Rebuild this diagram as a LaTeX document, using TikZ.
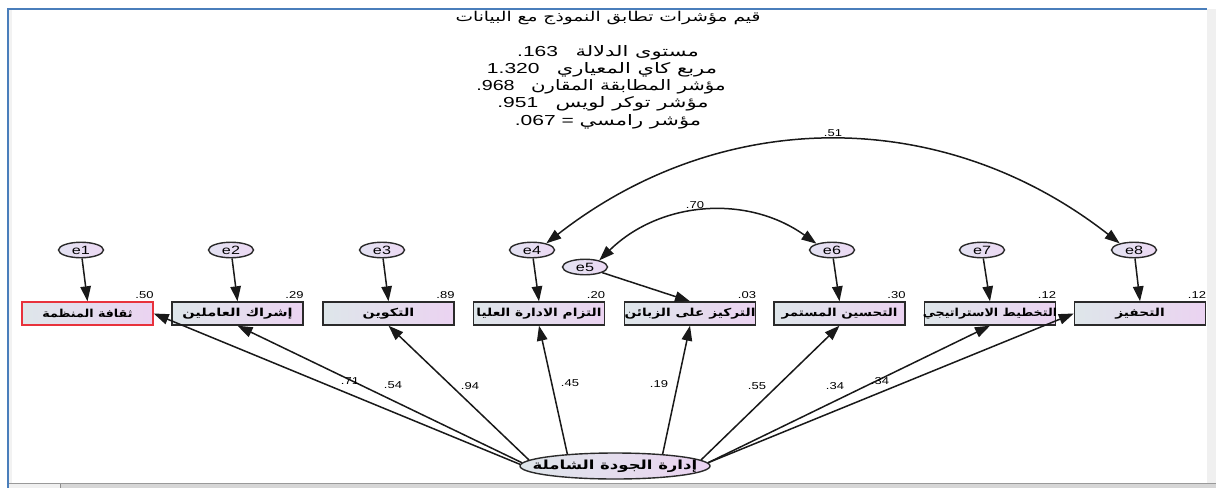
\documentclass[tikz,border=0pt]{standalone}
\usepackage{graphicx}
\usepackage{fontspec}
\setmainfont{Liberation Sans}
\newfontfamily\arfont[Script=Arabic]{DejaVu Sans}
\TeXXeTstate=1
\usetikzlibrary{arrows.meta,shapes.geometric}

\definecolor{frameblue}{HTML}{4A7EBB}
\definecolor{boxL}{HTML}{DEE6EA}
\definecolor{boxR}{HTML}{EBD3F1}
\definecolor{errL}{HTML}{E3E2F2}
\definecolor{errR}{HTML}{ECD9F3}
\definecolor{outline}{HTML}{2A2A2A}
\definecolor{redline}{HTML}{E8323C}
\definecolor{panel}{HTML}{F0F0F0}
\definecolor{statusbar}{HTML}{D6D6D6}

% horizontally stretched text
\newcommand\wide[2]{\scalebox{#1}[1]{#2}}
% stretched text that does not widen its shape
\newcommand\fixw[2]{\makebox[0pt]{\scalebox{#1}[1]{#2}}}

\tikzset{
  obsbox/.style={draw=outline, line width=1.4pt, minimum width=131pt, minimum height=23pt,
    inner sep=0pt, left color=boxL, right color=boxR,
    font=\arfont\bfseries\fontsize{11}{11}\selectfont},
  errnode/.style={ellipse, draw=outline, line width=1.4pt, minimum width=45pt, minimum height=15.5pt,
    inner sep=0pt, left color=errL, right color=errR, font=\fontsize{12}{12}\selectfont},
  latnode/.style={ellipse, draw=outline, line width=1.4pt, minimum width=190pt, minimum height=26pt,
    inner sep=0pt, left color=boxL, right color=boxR,
    font=\arfont\bfseries\fontsize{12.5}{12.5}\selectfont},
  tip/.tip={Triangle[length=15pt,width=10.5pt]},
  regpath/.style={-tip, line width=1.5pt, draw=black!90},
  covpath/.style={tip-tip, line width=1.5pt, draw=black!90},
  val/.style={inner sep=0pt, font=\fontsize{10}{10}\selectfont},
  fitline/.style={inner sep=0pt, font=\fontsize{14.5}{14.5}\selectfont},
}

\begin{document}
\begin{tikzpicture}[x=1pt,y=-1pt]
  % page, side panel and status bar
  \fill[white] (0,0) rectangle (1216,488);
  \useasboundingbox (0,0) rectangle (1216,488);
  \fill[panel] (1207,9) rectangle (1216,483);
  \fill[black!5] (9,10) rectangle (12,483);
  \fill[statusbar] (9,483) rectangle (1216,488);
  \fill[panel] (9,484) rectangle (60,488);
  \draw[black!45, line width=0.8pt] (60,484) -- (60,488);
  \draw[black!40, line width=1pt] (9,483.5) -- (1216,483.5);
  \draw[frameblue, line width=2.4pt] (7,9) -- (1207,9);
  \draw[frameblue, line width=2.4pt] (8,8) -- (8,488);

  % title and fit indices
  \node (title) at (608,18) {\wide{1.38}{\arfont\fontsize{13.5}{13.5}\selectfont\beginR قيم مؤشرات تطابق النموذج مع البيانات\endR}};
  \node[fitline] (fit1) at (608,53) {\wide{1.45}{.163\hspace{12pt}{\arfont\beginR مستوى الدلالة\endR}}};
  \node[fitline] (fit2) at (602,70) {\wide{1.45}{1.320\hspace{12pt}{\arfont\beginR مربع كاي المعياري\endR}}};
  \node[fitline] (fit3) at (601,87) {\wide{1.36}{.968\hspace{12pt}{\arfont\beginR مؤشر المطابقة المقارن\endR}}};
  \node[fitline] (fit4) at (603,104) {\wide{1.45}{.951\hspace{12pt}{\arfont\beginR مؤشر توكر لويس\endR}}};
  \node[fitline] (fit5) at (608,122) {\wide{1.45}{.067 = {\arfont\beginR مؤشر رامسي\endR}}};

  % observed variables
  \node[obsbox, draw=redline] (b1) at (87.5,313.5) {\fixw{1.15}{\beginR ثقافة المنظمة\endR}};
  \node[obsbox] (b2) at (237.5,313.5) {\fixw{1.33}{\beginR إشراك العاملين\endR}};
  \node[obsbox] (b3) at (388.5,313.5) {\fixw{1.3}{\beginR التكوين\endR}};
  \node[obsbox] (b4) at (539,313.5) {\fixw{1.25}{\beginR التزام الادارة العليا\endR}};
  \node[obsbox] (b5) at (690,313.5) {\fixw{1.25}{\beginR التركيز على الزبائن\endR}};
  \node[obsbox] (b6) at (839.5,313.5) {\fixw{1.22}{\beginR التحسين المستمر\endR}};
  \node[obsbox] (b7) at (990,313.5) {\fixw{1.15}{\beginR التخطيط الاستراتيجي\endR}};
  \node[obsbox] (b8) at (1140,313.5) {\fixw{1.25}{\beginR التحفيز\endR}};

  % error terms
  \node[errnode] (e1) at (81,250) {\wide{1.35}{e1}};
  \node[errnode] (e2) at (231,250) {\wide{1.35}{e2}};
  \node[errnode] (e3) at (382,250) {\wide{1.35}{e3}};
  \node[errnode] (e4) at (532,250) {\wide{1.35}{e4}};
  \node[errnode] (e5) at (585,267) {\wide{1.35}{e5}};
  \node[errnode] (e6) at (832,250) {\wide{1.35}{e6}};
  \node[errnode] (e7) at (982,250) {\wide{1.35}{e7}};
  \node[errnode] (e8) at (1134,250) {\wide{1.35}{e8}};

  % latent factor
  \node[latnode] (lat) at (615,466) {\fixw{1.32}{\beginR إدارة الجودة الشاملة\endR}};

  % error paths
  \draw[regpath] (e1) -- (b1.north);
  \draw[regpath] (e2) -- (b2.north);
  \draw[regpath] (e3) -- (b3.north);
  \draw[regpath] (e4) -- (b4.north);
  \draw[regpath] (e5) -- (b5.north);
  \draw[regpath] (e6) -- (b6.north);
  \draw[regpath] (e7) -- (b7.north);
  \draw[regpath] (e8) -- (b8.north);

  % loadings
  \draw[regpath] (lat.179) -- (b1.east);
  \draw[regpath] (lat.178.5) -- (b2.south);
  \draw[regpath] (lat.176.5) -- (b3.south);
  \draw[regpath] (lat.166) -- (b4.south);
  \draw[regpath] (lat.14) -- (b5.south);
  \draw[regpath] (lat.4) -- (b6.south);
  \draw[regpath] (lat.2) -- (b7.south);
  \draw[regpath] (lat.2) -- (b8.west);

  % error covariances
  \draw[covpath] (e4.25) to[bend left=38] (e8.155);
  \draw[covpath] (e5.25) to[bend left=40] (e6.158);
  \node[val] (c51) at (833,133) {\wide{1.3}{.51}};
  \node[val] (c70) at (695,205) {\wide{1.3}{.70}};

  % squared multiple correlations
  \node[val, anchor=south east] (r1) at ([yshift=3pt]b1.north east) {\wide{1.3}{.50}};
  \node[val, anchor=south east] (r2) at ([yshift=3pt]b2.north east) {\wide{1.3}{.29}};
  \node[val, anchor=south east] (r3) at ([yshift=3pt]b3.north east) {\wide{1.3}{.89}};
  \node[val, anchor=south east] (r4) at ([yshift=3pt]b4.north east) {\wide{1.3}{.20}};
  \node[val, anchor=south east] (r5) at ([yshift=3pt]b5.north east) {\wide{1.3}{.03}};
  \node[val, anchor=south east] (r6) at ([yshift=3pt]b6.north east) {\wide{1.3}{.30}};
  \node[val, anchor=south east] (r7) at ([yshift=3pt]b7.north east) {\wide{1.3}{.12}};
  \node[val, anchor=south east] (r8) at ([yshift=3pt]b8.north east) {\wide{1.3}{.12}};

  % loading values
  \node[val] (w1) at (350,381) {\wide{1.3}{.71}};
  \node[val] (w2) at (393,385) {\wide{1.3}{.54}};
  \node[val] (w3) at (470,386) {\wide{1.3}{.94}};
  \node[val] (w4) at (570,383) {\wide{1.3}{.45}};
  \node[val] (w5) at (659,384) {\wide{1.3}{.19}};
  \node[val] (w6) at (757,386) {\wide{1.3}{.55}};
  \node[val] (w7) at (835,386) {\wide{1.3}{.34}};
  \node[val] (w8) at (880,381) {\wide{1.3}{.34}};
\end{tikzpicture}
\end{document}
